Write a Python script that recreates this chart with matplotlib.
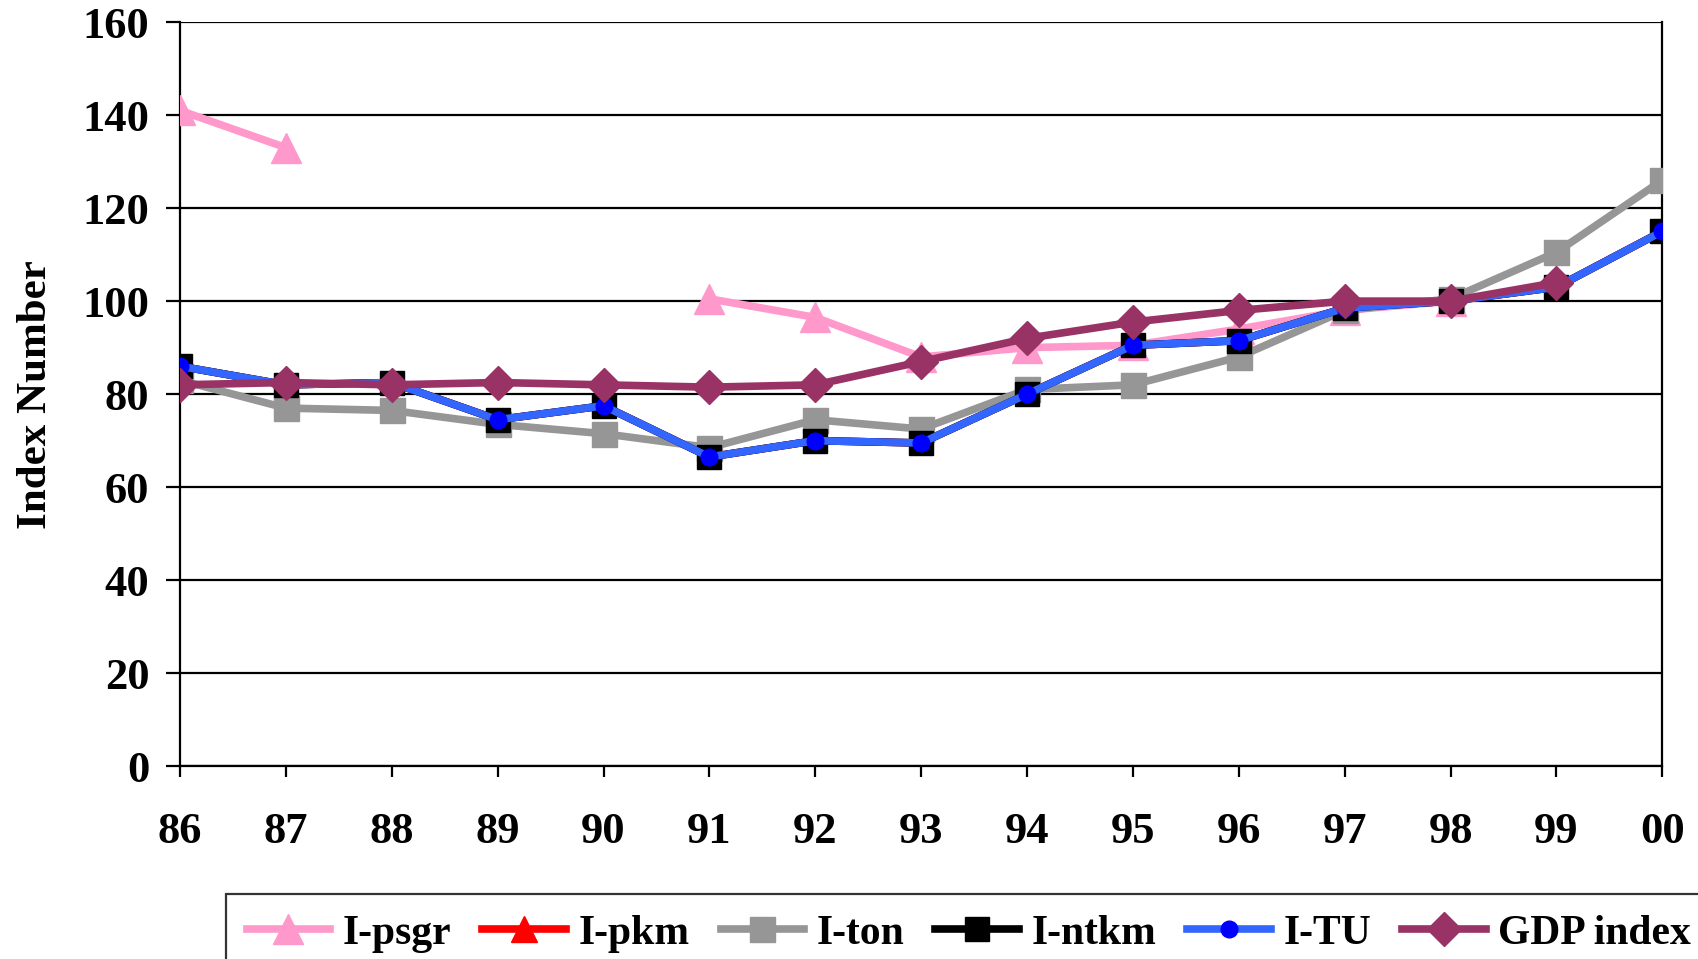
import numpy as np
import matplotlib.pyplot as plt

plt.rcParams['font.family'] = ['Liberation Serif', 'DejaVu Serif']
plt.rcParams['font.weight'] = 'bold'

years = ['86', '87', '88', '89', '90', '91', '92', '93', '94', '95', '96', '97', '98', '99', '00']
nan = np.nan

i_psgr = [141, 133, nan, nan, nan, 100.5, 96.5, 88, 90, 90.5, 94, 98, 100, nan, nan]
i_pkm = [86, 82, 82.5, 74.5, 77.5, 66.5, 70, 69.5, 80, 90.5, 91.5, 98.5, 100, 103, 115]
i_ton = [83, 77, 76.5, 73.5, 71.5, 68.5, 74.5, 72.5, 81, 82, 88, 98, 100.5, 110.5, 126]
i_ntkm = [86, 82, 82.5, 74.5, 77.5, 66.5, 70, 69.5, 80, 90.5, 91.5, 98.5, 100, 103, 115]
i_tu = [86, 82, 82.5, 74.5, 77.5, 66.5, 70, 69.5, 80, 90.5, 91.5, 98.5, 100, 103, 115]
gdp = [82, 82.5, 82, 82.5, 82, 81.5, 82, 87, 92, 95.5, 98, 100, 100, 104, nan]

fig = plt.figure(figsize=(16.98, 9.59), dpi=100)
ax = fig.add_axes([0.106, 0.201, 0.873, 0.776])

x = np.arange(len(years))
lw = 5.5
ax.plot(x, i_psgr, color='#FF99CC', lw=lw, marker='^', ms=21, label='I-psgr', zorder=3)
ax.plot(x, i_pkm, color='#FF0000', lw=lw, marker='^', ms=10, label='I-pkm', zorder=3)
ax.plot(x, i_ton, color='#969696', lw=lw, marker='s', ms=18, label='I-ton', zorder=3)
ax.plot(x, i_ntkm, color='#000000', lw=lw, marker='s', ms=17, label='I-ntkm', zorder=3)
ax.plot(x, i_tu, color='#3366FF', lw=lw, marker='o', mfc='#0000FF', mec='#0000FF', ms=12, label='I-TU', zorder=3)
ax.plot(x, gdp, color='#993366', lw=lw, marker='D', ms=17, label='GDP index', zorder=3)

ax.set_xlim(0, len(years) - 1)
ax.set_ylim(0, 160)
ax.set_yticks(np.arange(0, 161, 20))
ax.set_xticks(x)
ax.set_xticklabels(years)
ax.yaxis.grid(True, color='black', lw=1.6)
ax.set_axisbelow(True)
for s in ['left', 'right', 'bottom']:
    ax.spines[s].set_linewidth(1.6)
ax.spines['top'].set_visible(False)
ax.tick_params(axis='x', length=8, width=1.6, pad=25, labelsize=32)
ax.tick_params(axis='y', length=10, width=1.6, pad=12, labelsize=32)
ax.set_ylabel('Index Number', fontsize=31, fontweight='bold', labelpad=20)

leg = fig.legend(loc='upper left', bbox_to_anchor=(0.133, 0.068), ncol=6, fontsize=30,
                 frameon=True, fancybox=False, edgecolor='black', handlelength=2.0,
                 handletextpad=0.3, columnspacing=0.75, borderpad=0.5, borderaxespad=0)
leg.get_frame().set_linewidth(1.6)
leg.legend_handles[1].set_markersize(19)

fig.savefig('out.png', dpi=100)
